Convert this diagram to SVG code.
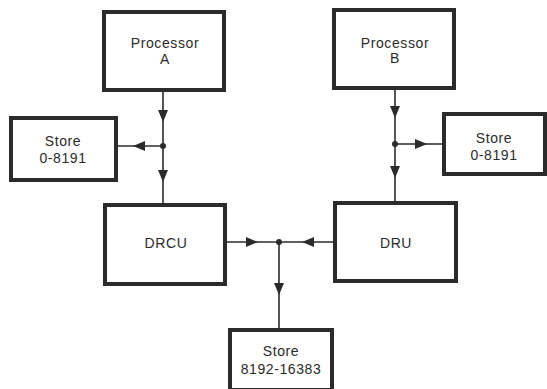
<svg xmlns="http://www.w3.org/2000/svg" width="547" height="389" viewBox="0 0 547 389">
<style>
.box{fill:#fff;stroke:#2b2b2b;stroke-width:4}
.lbl{font-family:"Liberation Sans",Arial,sans-serif;font-size:14px;fill:#2b2b2b;text-anchor:middle;letter-spacing:0.6px}
.ln{fill:none;stroke:#2b2b2b;stroke-width:1.6}
.dot{fill:#2b2b2b}
</style>
<defs>
<marker id="ah" markerUnits="userSpaceOnUse" markerWidth="13" markerHeight="11" refX="12" refY="5" orient="auto" viewBox="0 0 13 11">
<path d="M0,0 L12,5 L0,10 z" fill="#2b2b2b"/>
</marker>
</defs>
<rect width="547" height="389" fill="#fff"/>
<g id="connectors">
<path class="ln" d="M163 91 L163 122 L163 182 L163 204" marker-mid="url(#ah)"/>
<path class="ln" d="M163 146 L133 146 L117 146" marker-mid="url(#ah)"/>
<path class="ln" d="M395 89 L395 118 L395 178 L395 201" marker-mid="url(#ah)"/>
<path class="ln" d="M395 144 L427 144 L442 144" marker-mid="url(#ah)"/>
<path class="ln" d="M226 242 L258 242 L279 242" marker-mid="url(#ah)"/>
<path class="ln" d="M333 242 L302 242 L279 242" marker-mid="url(#ah)"/>
<path class="ln" d="M279 242 L279 295 L279 328" marker-mid="url(#ah)"/>
<circle class="dot" cx="163" cy="146" r="3"/>
<circle class="dot" cx="395" cy="144" r="3"/>
<circle class="dot" cx="279" cy="242" r="3"/>
</g>
<g id="procA"><rect class="box" x="104" y="12" width="120" height="78"/><text class="lbl" x="165" y="48">Processor</text><text class="lbl" x="165" y="64">A</text></g>
<g id="storeA"><rect class="box" x="11" y="118" width="105" height="62"/><text class="lbl" x="63" y="146">Store</text><text class="lbl" x="63" y="163">0-8191</text></g>
<g id="procB"><rect class="box" x="334" y="10" width="120" height="78"/><text class="lbl" x="395" y="48">Processor</text><text class="lbl" x="395" y="63">B</text></g>
<g id="storeB"><rect class="box" x="444" y="114" width="101" height="60"/><text class="lbl" x="494" y="143">Store</text><text class="lbl" x="494" y="160">0-8191</text></g>
<g id="drcu"><rect class="box" x="105" y="205" width="120" height="79"/><text class="lbl" x="166" y="248">DRCU</text></g>
<g id="dru"><rect class="box" x="335" y="203" width="121" height="78"/><text class="lbl" x="396" y="248">DRU</text></g>
<g id="storeC"><rect class="box" x="230" y="330" width="102" height="60"/><text class="lbl" x="281" y="356">Store</text><text class="lbl" x="281" y="374">8192-16383</text></g>
</svg>
